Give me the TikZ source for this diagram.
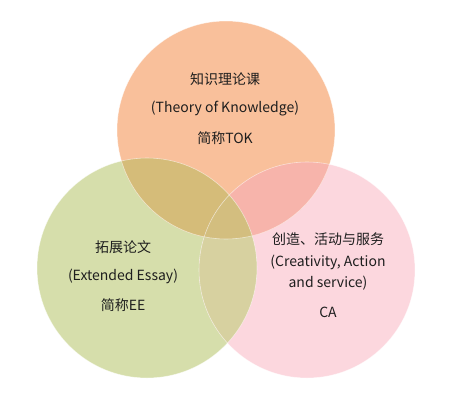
\documentclass[tikz,border=0pt]{standalone}
\usepackage{fontspec}
\setmainfont{Noto Sans CJK SC}
\definecolor{cTop}{RGB}{249,192,155}
\definecolor{cLeft}{RGB}{214,222,171}
\definecolor{cRight}{RGB}{252,215,222}
\definecolor{cTL}{RGB}{213,188,121}
\definecolor{cTR}{RGB}{247,180,171}
\definecolor{cLR}{RGB}{215,209,160}
\definecolor{cAll}{RGB}{211,190,127}
\definecolor{txt}{RGB}{30,30,30}
\tikzset{
  lbl/.style={text=txt, font=\fontsize{14}{16}\selectfont, align=center, inner sep=0pt},
  rim/.style={draw=white, draw opacity=0.55, line width=0.6pt}
}
\begin{document}
\begin{tikzpicture}[x=1pt,y=-1pt]
\useasboundingbox (0,0) rectangle (450,413);
\coordinate (cT) at (226,130);
\coordinate (cL) at (147,268);
\coordinate (cR) at (307,270);
\def\rT{109}\def\rL{110}\def\rR{108}
% base fills
\fill[cLeft] (cL) circle (\rL);
\fill[cRight] (cR) circle (\rR);
\fill[cTop] (cT) circle (\rT);
% overlaps
\begin{scope}\clip (cT) circle (\rT); \fill[cTL] (cL) circle (\rL); \end{scope}
\begin{scope}\clip (cT) circle (\rT); \fill[cTR] (cR) circle (\rR); \end{scope}
\begin{scope}\clip (cL) circle (\rL); \fill[cLR] (cR) circle (\rR); \end{scope}
\begin{scope}\clip (cT) circle (\rT); \clip (cL) circle (\rL); \fill[cAll] (cR) circle (\rR); \end{scope}
% rims
\draw[rim] (cT) circle (\rT);
\draw[rim] (cL) circle (\rL);
\draw[rim] (cR) circle (\rR);
% labels
\node[lbl] (t1) at (225,79) {知识理论课};
\node[lbl] (t2) at (225,109) {(Theory of Knowledge)};
\node[lbl] (t3) at (225,138) {简称TOK};
\node[lbl] (l1) at (123,247) {拓展论文};
\node[lbl] (l2) at (123,276) {(Extended Essay)};
\node[lbl] (l3) at (123,305) {简称EE};
\node[lbl] (r1) at (328,239) {创造、活动与服务};
\node[lbl] (r2) at (328,262) {(Creativity, Action};
\node[lbl] (r3) at (328,283) {and service)};
\node[lbl] (r4) at (328,312) {CA};
\end{tikzpicture}
\end{document}
